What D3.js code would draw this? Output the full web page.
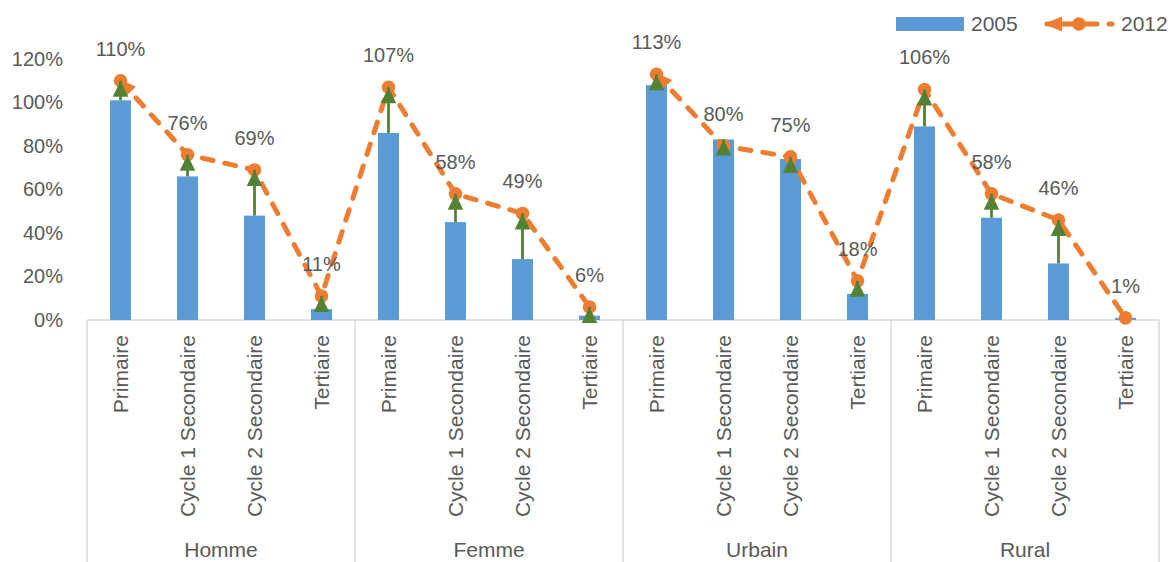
<!DOCTYPE html>
<html>
<head>
<meta charset="utf-8">
<script src="https://cdn.jsdelivr.net/npm/d3@7"></script>
<style>
  html, body { margin: 0; padding: 0; background: #fff; }
  svg { display: block; }
  text { font-family: "Liberation Sans", Arial, sans-serif; fill: #595959; }
</style>
</head>
<body>
<svg id="chart" width="1169" height="562"></svg>
<script>
// Enrolment rates by level, 2005 (bars) vs 2012 (dashed line)
const groups = ["Homme", "Femme", "Urbain", "Rural"];
const levels = ["Primaire", "Cycle 1 Secondaire", "Cycle 2 Secondaire", "Tertiaire"];
const values2005 = [101, 66, 48, 5, 86, 45, 28, 2, 108, 83, 74, 12, 89, 47, 26, 1];
const values2012 = [110, 76, 69, 11, 107, 58, 49, 6, 113, 80, 75, 18, 106, 58, 46, 1];
const yTicks = [0, 20, 40, 60, 80, 100, 120];
// the 2012 line is drawn as two runs: sex, then place of residence
const lineRuns = [["Homme", "Femme"], ["Urbain", "Rural"]];
const seriesNames = ["2005", "2012"];

const BLUE = "#5B9BD5", ORANGE = "#ED7D31", GREEN = "#548235", AXIS = "#D9D9D9";

const svg = d3.select("#chart");
const W = 1169, H = 562;
const plotLeft = 87, plotRight = 1159, plotTop = 59, plotBase = 320;

const rows = [];
groups.forEach((g, gi) => levels.forEach((l, li) => {
  const i = gi * levels.length + li;
  rows.push({ key: g + "|" + l, group: g, level: l, v05: values2005[i], v12: values2012[i] });
}));

const pIn = 0.687;
const x = d3.scaleBand().domain(rows.map(d => d.key)).range([plotLeft, plotRight])
  .paddingInner(pIn).paddingOuter(pIn / 2);
const cx = k => x(k) + x.bandwidth() / 2;
const y = d3.scaleLinear().domain([0, 120]).range([plotBase, plotTop]);

// y axis labels (no line, no gridlines)
const yAxis = svg.append("g").attr("transform", `translate(${plotLeft},0)`)
  .call(d3.axisLeft(y).tickValues(yTicks).tickFormat(d => d + "%").tickSize(0).tickPadding(24));
yAxis.select(".domain").remove();
yAxis.selectAll("text").style("font-size", "20px").attr("fill", "#595959")
  .style("font-family", "'Liberation Sans', Arial, sans-serif");

// category axis: baseline and group separators
svg.append("line").attr("x1", plotLeft).attr("x2", plotRight).attr("y1", plotBase).attr("y2", plotBase)
  .attr("stroke", AXIS).attr("stroke-width", 1.5);
const bounds = groups.map(g => x(g + "|" + levels[0]) - x.step() * pIn / 2)
  .concat([plotRight]);
svg.append("g").selectAll("line").data(bounds).join("line")
  .attr("x1", d => d).attr("x2", d => d).attr("y1", plotBase).attr("y2", H)
  .attr("stroke", AXIS).attr("stroke-width", 1.5);

// bars 2005
svg.append("g").selectAll("rect").data(rows).join("rect")
  .attr("x", d => x(d.key)).attr("width", x.bandwidth())
  .attr("y", d => y(d.v05)).attr("height", d => y(0) - y(d.v05))
  .attr("fill", BLUE);

// arrowhead marker for the start of each 2012 run
const defs = svg.append("defs");
defs.append("marker").attr("id", "arrow")
  .attr("markerUnits", "userSpaceOnUse")
  .attr("viewBox", "0 -8 18 16").attr("refX", 15).attr("refY", 0)
  .attr("markerWidth", 18).attr("markerHeight", 16)
  .attr("orient", "auto-start-reverse")
  .append("path").attr("d", "M0,-7.5L18,0L0,7.5Z").attr("fill", ORANGE);

const line = d3.line().x(d => cx(d.key)).y(d => y(d.v12));
lineRuns.forEach(run => {
  const pts = rows.filter(d => run.includes(d.group));
  svg.append("path").datum(pts).attr("d", line)
    .attr("fill", "none").attr("stroke", ORANGE).attr("stroke-width", 5)
    .attr("stroke-dasharray", "11 12").attr("stroke-linecap", "round")
    .attr("marker-start", "url(#arrow)");
});

// 2012 markers
svg.append("g").selectAll("circle").data(rows).join("circle")
  .attr("cx", d => cx(d.key)).attr("cy", d => y(d.v12)).attr("r", 6.8)
  .attr("fill", ORANGE);

// change arrows 2005 -> 2012
const chg = svg.append("g").selectAll("g").data(rows.filter(d => d.v12 !== d.v05)).join("g");
chg.append("line")
  .attr("x1", d => cx(d.key)).attr("x2", d => cx(d.key))
  .attr("y1", d => y(d.v05)).attr("y2", d => y(d.v12))
  .attr("stroke", GREEN).attr("stroke-width", 2.8);
chg.append("path")
  .attr("d", d => {
    const px = cx(d.key), py = y(Math.max(d.v05, d.v12));
    return `M${px},${py}L${px + 7.8},${py + 16}L${px - 7.8},${py + 16}Z`;
  })
  .attr("fill", GREEN);

// value labels for 2012
svg.append("g").selectAll("text").data(rows).join("text")
  .attr("x", d => cx(d.key)).attr("y", d => y(d.v12) - 32).attr("dy", "0.35em")
  .attr("text-anchor", "middle").style("font-size", "20px")
  .text(d => d.v12 + "%");

// level labels (rotated)
svg.append("g").selectAll("text").data(rows).join("text")
  .attr("transform", d => `translate(${cx(d.key)},335) rotate(-90)`)
  .attr("dy", "0.35em").attr("text-anchor", "end").style("font-size", "21px")
  .text(d => d.level);

// group labels
svg.append("g").selectAll("text").data(groups).join("text")
  .attr("x", (g, i) => (bounds[i] + bounds[i + 1]) / 2).attr("y", 550).attr("dy", "0.35em")
  .attr("text-anchor", "middle").style("font-size", "21px")
  .text(g => g);

// legend
const lg = svg.append("g");
lg.append("rect").attr("x", 896).attr("y", 17).attr("width", 68).attr("height", 14).attr("fill", BLUE);
lg.append("text").attr("x", 971).attr("y", 24).attr("dy", "0.35em").style("font-size", "21px").text(seriesNames[0]);
lg.append("path").attr("d", "M1047,24L1115,24")
  .attr("stroke", ORANGE).attr("stroke-width", 5).attr("fill", "none")
  .attr("stroke-dasharray", "50 12 3 40").attr("stroke-linecap", "round")
  .attr("marker-start", "url(#arrow)");
lg.append("circle").attr("cx", 1079).attr("cy", 24).attr("r", 6.8).attr("fill", ORANGE);
lg.append("text").attr("x", 1121).attr("y", 24).attr("dy", "0.35em").style("font-size", "21px").text(seriesNames[1]);
</script>
</body>
</html>
